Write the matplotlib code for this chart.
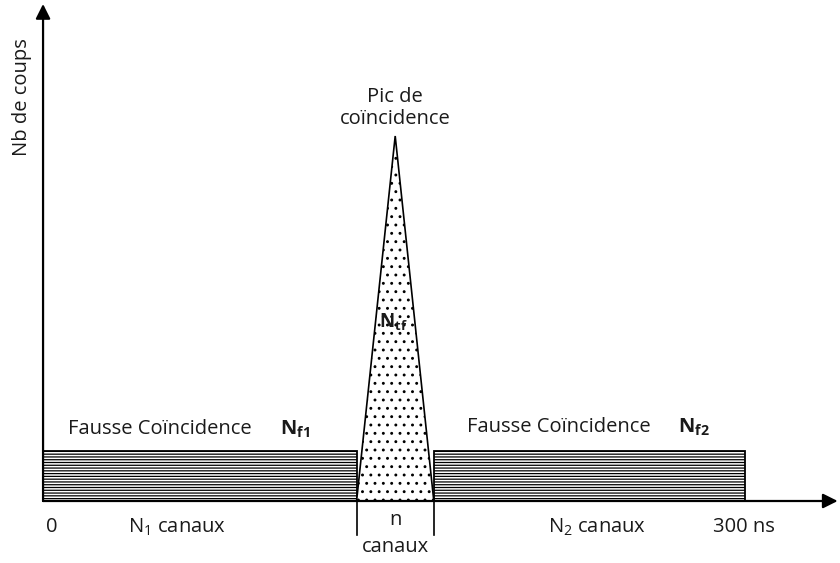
import matplotlib.pyplot as plt

plt.rcParams['font.family'] = ['Open Sans', 'DejaVu Sans']
plt.rcParams['mathtext.fontset'] = 'custom'
plt.rcParams['mathtext.rm'] = 'Open Sans'
plt.rcParams['mathtext.bf'] = 'Open Sans:bold'
plt.rcParams['mathtext.it'] = 'Open Sans:italic'
plt.rcParams['hatch.linewidth'] = 0.9

# schematic values (time in ns, counts in arbitrary units)
bg_starts = [0, 167]
bg_widths = [134, 133]
bg_level = 10
peak_x = [134, 150.5, 167]
peak_y = [0, 73, 0]
t_max = 300

fig = plt.figure(figsize=(8.4, 5.63), dpi=100)
ax = fig.add_axes([0, 0, 1, 1])
ax.set_xlim(-18.4, 340.6)
ax.set_ylim(-12.4, 100.2)
ax.axis('off')

txt = '#1a1a1a'
fs = 14.5

# background of false coincidences
ax.bar(bg_starts, [bg_level] * 2, width=bg_widths, align='edge',
       color='white', edgecolor='black', linewidth=1.3, hatch='------',
       zorder=2)
# coincidence peak
ax.fill(peak_x, peak_y, facecolor='white', edgecolor='black',
        linewidth=1.2, hatch='..', zorder=2)

# axes with arrows
ax.annotate('', xy=(0, 99.4), xytext=(0, 0),
            arrowprops=dict(arrowstyle='-|>', color='black', lw=1.6,
                            mutation_scale=22, shrinkA=0, shrinkB=0))
ax.annotate('', xy=(339.6, 0), xytext=(0, 0),
            arrowprops=dict(arrowstyle='-|>', color='black', lw=1.6,
                            mutation_scale=22, shrinkA=0, shrinkB=0),
            zorder=3)

# channel window marks
for xv in [peak_x[0], peak_x[2]]:
    ax.plot([xv, xv], [0, -6.8], color='black', lw=1.2)

ax.text(-9.0, 80.8, 'Nb de coups', rotation=90, ha='center', va='center',
        fontsize=fs, color=txt)
ax.text(peak_x[1], 78.6, 'Pic de\ncoïncidence', ha='center', va='center',
        fontsize=fs, color=txt, linespacing=1.15)
ax.text(149.6, 35.8, r'$\mathbf{N_{tf}}$', ha='center', va='center',
        fontsize=fs - 1, color=txt)

ax.text(10.7, 14.4, 'Fausse Coïncidence', ha='left', va='center',
        fontsize=fs, color=txt)
ax.text(101.3, 14.4, r'$\mathbf{N_{f1}}$', ha='left', va='center',
        fontsize=fs, color=txt)
ax.text(181.2, 14.8, 'Fausse Coïncidence', ha='left', va='center',
        fontsize=fs, color=txt)
ax.text(271.4, 14.8, r'$\mathbf{N_{f2}}$', ha='left', va='center',
        fontsize=fs, color=txt)

ax.text(3.8, -5.2, '0', ha='center', va='center', fontsize=fs, color=txt)
ax.text(36.3, -5.2, r'N$_1$ canaux', ha='left', va='center',
        fontsize=fs, color=txt)
ax.text(peak_x[1], -3.8, 'n', ha='center', va='center', fontsize=fs,
        color=txt)
ax.text(peak_x[1], -9.2, 'canaux', ha='center', va='center', fontsize=fs,
        color=txt)
ax.text(215.8, -5.2, r'N$_2$ canaux', ha='left', va='center',
        fontsize=fs, color=txt)
ax.text(286.3, -5.2, '300 ns', ha='left', va='center', fontsize=fs,
        color=txt)

fig.savefig('out.png', dpi=100)
